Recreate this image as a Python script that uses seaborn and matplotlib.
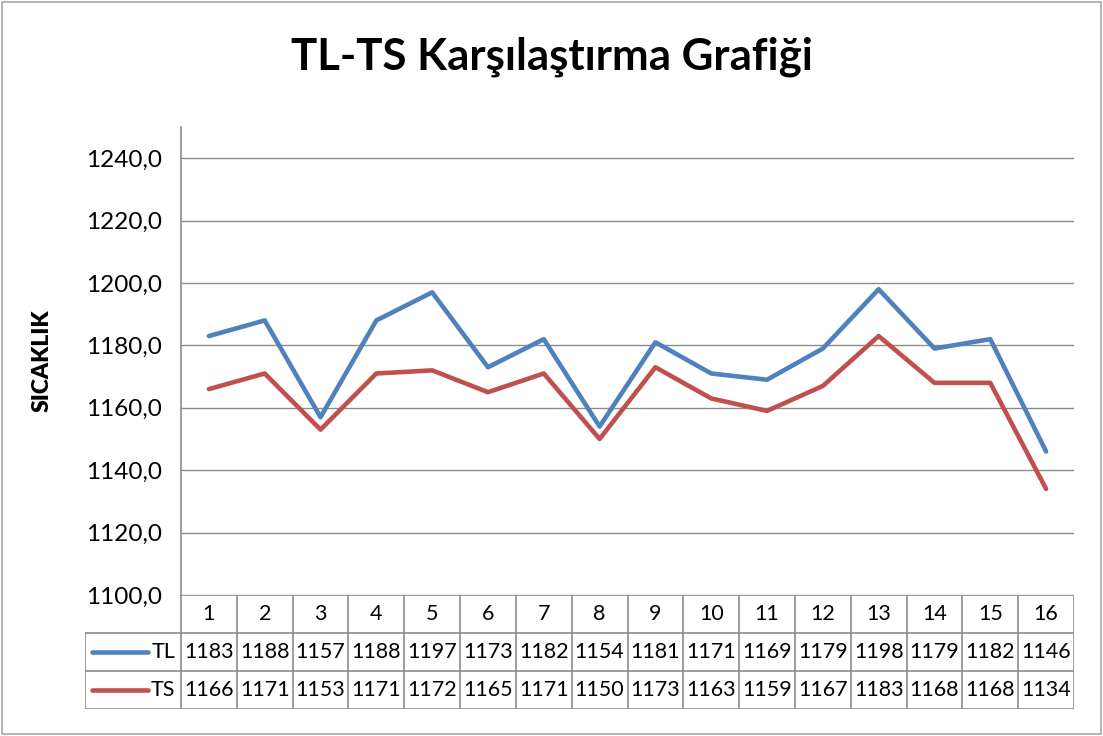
import numpy as np
import pandas as pd
import seaborn as sns
import matplotlib.pyplot as plt
from matplotlib.patches import Rectangle

olcum = list(range(1, 17))
tl = [1183, 1188, 1157, 1188, 1197, 1173, 1182, 1154,
      1181, 1171, 1169, 1179, 1198, 1179, 1182, 1146]
ts = [1166, 1171, 1153, 1171, 1172, 1165, 1171, 1150,
      1173, 1163, 1159, 1167, 1183, 1168, 1168, 1134]
seriler = ["TL", "TS"]
renkler = {"TL": "#4F81BD", "TS": "#C0504D"}
y_ticks = [1100, 1120, 1140, 1160, 1180, 1200, 1220, 1240]

df = pd.DataFrame({"olcum": olcum, "TL": tl, "TS": ts})
long_df = df.melt(id_vars="olcum", var_name="seri", value_name="deger")

sns.set_theme(style="white")
plt.rcParams["font.family"] = ["Lato", "DejaVu Sans"]
plt.rcParams["text.color"] = "black"
plt.rcParams["ytick.color"] = "black"
plt.rcParams["axes.labelcolor"] = "black"

W, H = 1103, 736
fig = plt.figure(figsize=(W / 100, H / 100), dpi=100)

# outer chart border
fig.patches.append(Rectangle((2 / W, 2 / H), (W - 4) / W, (H - 4) / H,
                             transform=fig.transFigure, fill=False,
                             edgecolor="#A6A6A6", linewidth=1.2))

gri = "#8C8C8C"
left, right, top, bottom = 181, 1074, 127, 595
ax = fig.add_axes([left / W, 1 - bottom / H, (right - left) / W, (bottom - top) / H])

sns.lineplot(data=long_df, x="olcum", y="deger", hue="seri", palette=renkler,
             linewidth=3.3, ax=ax, legend=False)
ax.set_xlim(0.5, 16.5)
ax.set_ylim(1100, 1250)
ax.set_yticks(y_ticks)
ax.set_yticklabels([f"{v:.1f}".replace(".", ",") for v in y_ticks], fontsize=17.5)
ax.tick_params(axis="y", length=0, pad=14)
ax.set_xticks([])
ax.set_xlabel("")
ax.set_ylabel("SICAKLIK", fontsize=16.5, fontweight="heavy", labelpad=24)
ax.yaxis.grid(True, color=gri, linewidth=1)
for s in ["top", "right", "bottom"]:
    ax.spines[s].set_visible(False)
ax.spines["left"].set_color(gri)
ax.spines["left"].set_linewidth(1.2)

fig.suptitle("TL-TS Karşılaştırma Grafiği", fontsize=31.5, fontweight="bold",
             y=1 - 57 / H, va="center")

# data table under the plot
tleft, tbottom = 85, 709
tax = fig.add_axes([tleft / W, 1 - tbottom / H, (right - tleft) / W, (tbottom - bottom) / H])
legw = 16 * (left - tleft) / (right - left)
tax.set_xlim(-legw, 16)
tax.set_ylim(0, 3)
tax.axis("off")

lw = 1.2
# horizontal lines
tax.plot([0, 16], [3, 3], color=gri, lw=lw)
for yy in [2, 1, 0]:
    tax.plot([-legw, 16], [yy, yy], color=gri, lw=lw)
# vertical lines
tax.plot([-legw, -legw], [0, 2], color=gri, lw=lw)
for i in range(17):
    tax.plot([i, i], [0, 3], color=gri, lw=lw)

for i, n in enumerate(olcum):
    tax.text(i + 0.5, 2.5, str(n), ha="center", va="center", fontsize=15.5)
for r, seri in enumerate(seriler):
    yc = 1.5 - r
    for i, v in enumerate(df[seri]):
        tax.text(i + 0.5, yc, str(v), ha="center", va="center", fontsize=15.5)
    tax.plot([-legw + 0.13, -legw + 1.13], [yc, yc], color=renkler[seri],
             lw=3.3, solid_capstyle="round")
    tax.text(-0.1, yc, seri, ha="right", va="center", fontsize=15.5)

plt.savefig("out.png", dpi=100)
